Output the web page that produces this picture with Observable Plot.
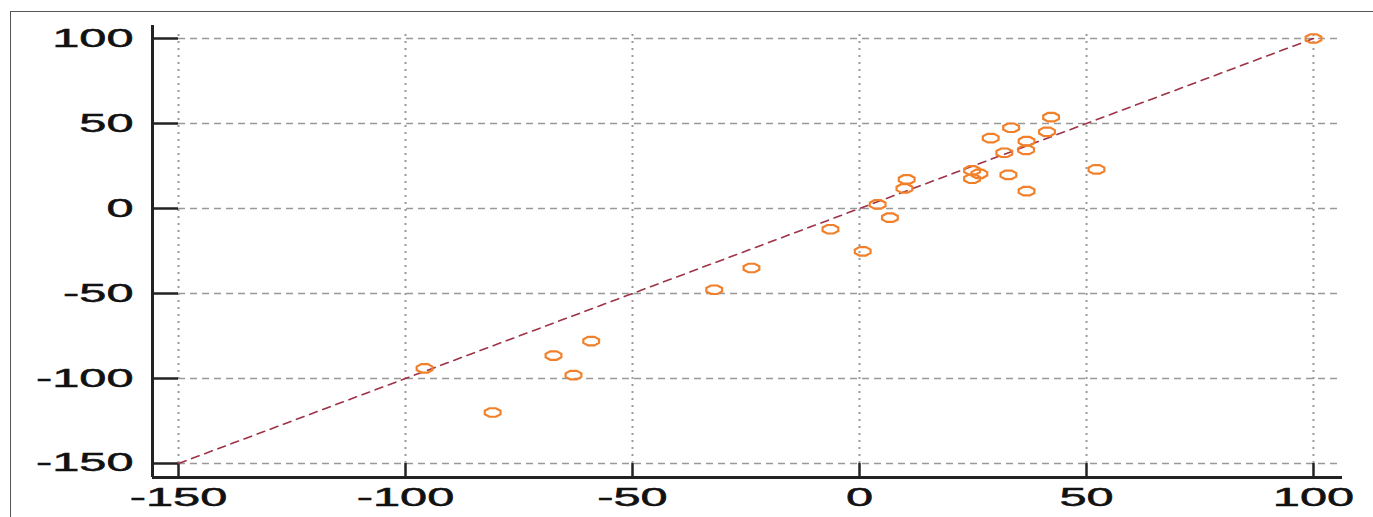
<!DOCTYPE html>
<html>
<head>
<meta charset="utf-8">
<script src="https://cdn.jsdelivr.net/npm/d3@7"></script>
<script src="https://cdn.jsdelivr.net/npm/@observablehq/plot@0.6"></script>
<style>
  html, body { margin: 0; padding: 0; background: #fff; overflow: hidden; width: 1373px; height: 517px; }
  #frame { position: absolute; left: 10px; top: 11px; width: 2000px; height: 2000px; border: 1.5px solid #555; box-sizing: border-box; }
  #chart { position: absolute; left: 0; top: 0; }
</style>
</head>
<body>
<div id="frame"></div>
<div id="chart"></div>
<script>
const xValues = [100, -95.8, -80.8, -67.4, -63, -59.1, -32, -23.8, -6.4, 0.7, 4, 6.7, 9.9, 10.4,
  24.8, 24.8, 26.4, 32.8, 36.8, 31.9, 28.9, 33.4, 36.8, 36.7, 41.3, 42.2, 52.2];
const yValues = [100, -94, -120, -86.5, -98, -78, -47.8, -35, -12.2, -25.2, 2.4, -5.4, 11.8, 17.1,
  22.4, 17.5, 20.4, 19.8, 10.2, 32.8, 41.4, 47.5, 39.6, 34.5, 45.1, 53.7, 23];
const xTicks = [-150, -100, -50, 0, 50, 100];
const yTicks = [-150, -100, -50, 0, 50, 100];
const diagX = [-150, 100];
const diagY = [-150, 100];

const points = xValues.map((x, i) => ({x, y: yValues[i]}));
const diag = diagX.map((x, i) => ({x, y: diagY[i]}));

const xMin = -155.73, xMax = 106.39, yMin = -158.24, yMax = 107.65;
const gridXEnd = 105.9, gridYEnd = 104.7;

const ellipse = {
  draw(context, size) {
    const r = Math.sqrt(size / Math.PI);
    const rx = r * 1.85, ry = r;
    const n = 8;
    for (let i = 0; i < n; i++) {
      const a = (i + 0.5) * 2 * Math.PI / n;
      const px = rx * Math.cos(a), py = ry * Math.sin(a);
      if (i === 0) context.moveTo(px, py); else context.lineTo(px, py);
    }
    context.closePath();
  }
};

const fmt = d => String(d);

const chart = Plot.plot({
  width: 1373,
  height: 517,
  marginLeft: 152,
  marginRight: 31,
  marginTop: 25,
  marginBottom: 40,
  style: {background: "transparent", fontFamily: "Liberation Sans, Arial, sans-serif"},
  x: {domain: [xMin, xMax]},
  y: {domain: [yMin, yMax]},
  marks: [
    Plot.ruleY(yTicks, {x1: -150, x2: gridXEnd, stroke: "#999", strokeWidth: 1.3, strokeDasharray: "7,5"}),
    Plot.ruleX(xTicks, {y1: -150, y2: gridYEnd, stroke: "#999", strokeWidth: 2, strokeDasharray: "2,5"}),
    Plot.ruleY(yTicks, {x1: xMin, x2: -150, stroke: "#222", strokeWidth: 2.5}),
    Plot.ruleX(xTicks, {y1: yMin, y2: -150, stroke: "#222", strokeWidth: 2.5}),
    Plot.ruleX([xMin], {y1: yMin, y2: yMax, stroke: "#222", strokeWidth: 3}),
    Plot.ruleY([yMin], {x1: xMin, x2: xMax, stroke: "#222", strokeWidth: 3}),
    Plot.line(diag, {x: "x", y: "y", stroke: "#9c3346", strokeWidth: 1.6, strokeDasharray: "8,6"}),
    Plot.dot(points, {x: "x", y: "y", r: 4.6, symbol: ellipse, stroke: "#f2802a", strokeWidth: 2.2, fill: "none"}),
    Plot.axisY(yTicks, {tickSize: 0, tickPadding: 19, fontSize: 25, fill: "#111", label: null, tickFormat: fmt}),
    Plot.axisX(xTicks, {tickSize: 0, tickPadding: 11, fontSize: 25, fill: "#111", label: null, tickFormat: fmt})
  ]
});
document.getElementById("chart").appendChild(chart);

chart.querySelectorAll('g[aria-label="y-axis tick label"] text, g[aria-label="x-axis tick label"] text').forEach(t => {
  const tr = t.getAttribute("transform") || "";
  t.setAttribute("transform", tr + " scale(1.95,1)");
  t.setAttribute("stroke", "#111");
  t.setAttribute("stroke-width", "0.5");
});
</script>
</body>
</html>
